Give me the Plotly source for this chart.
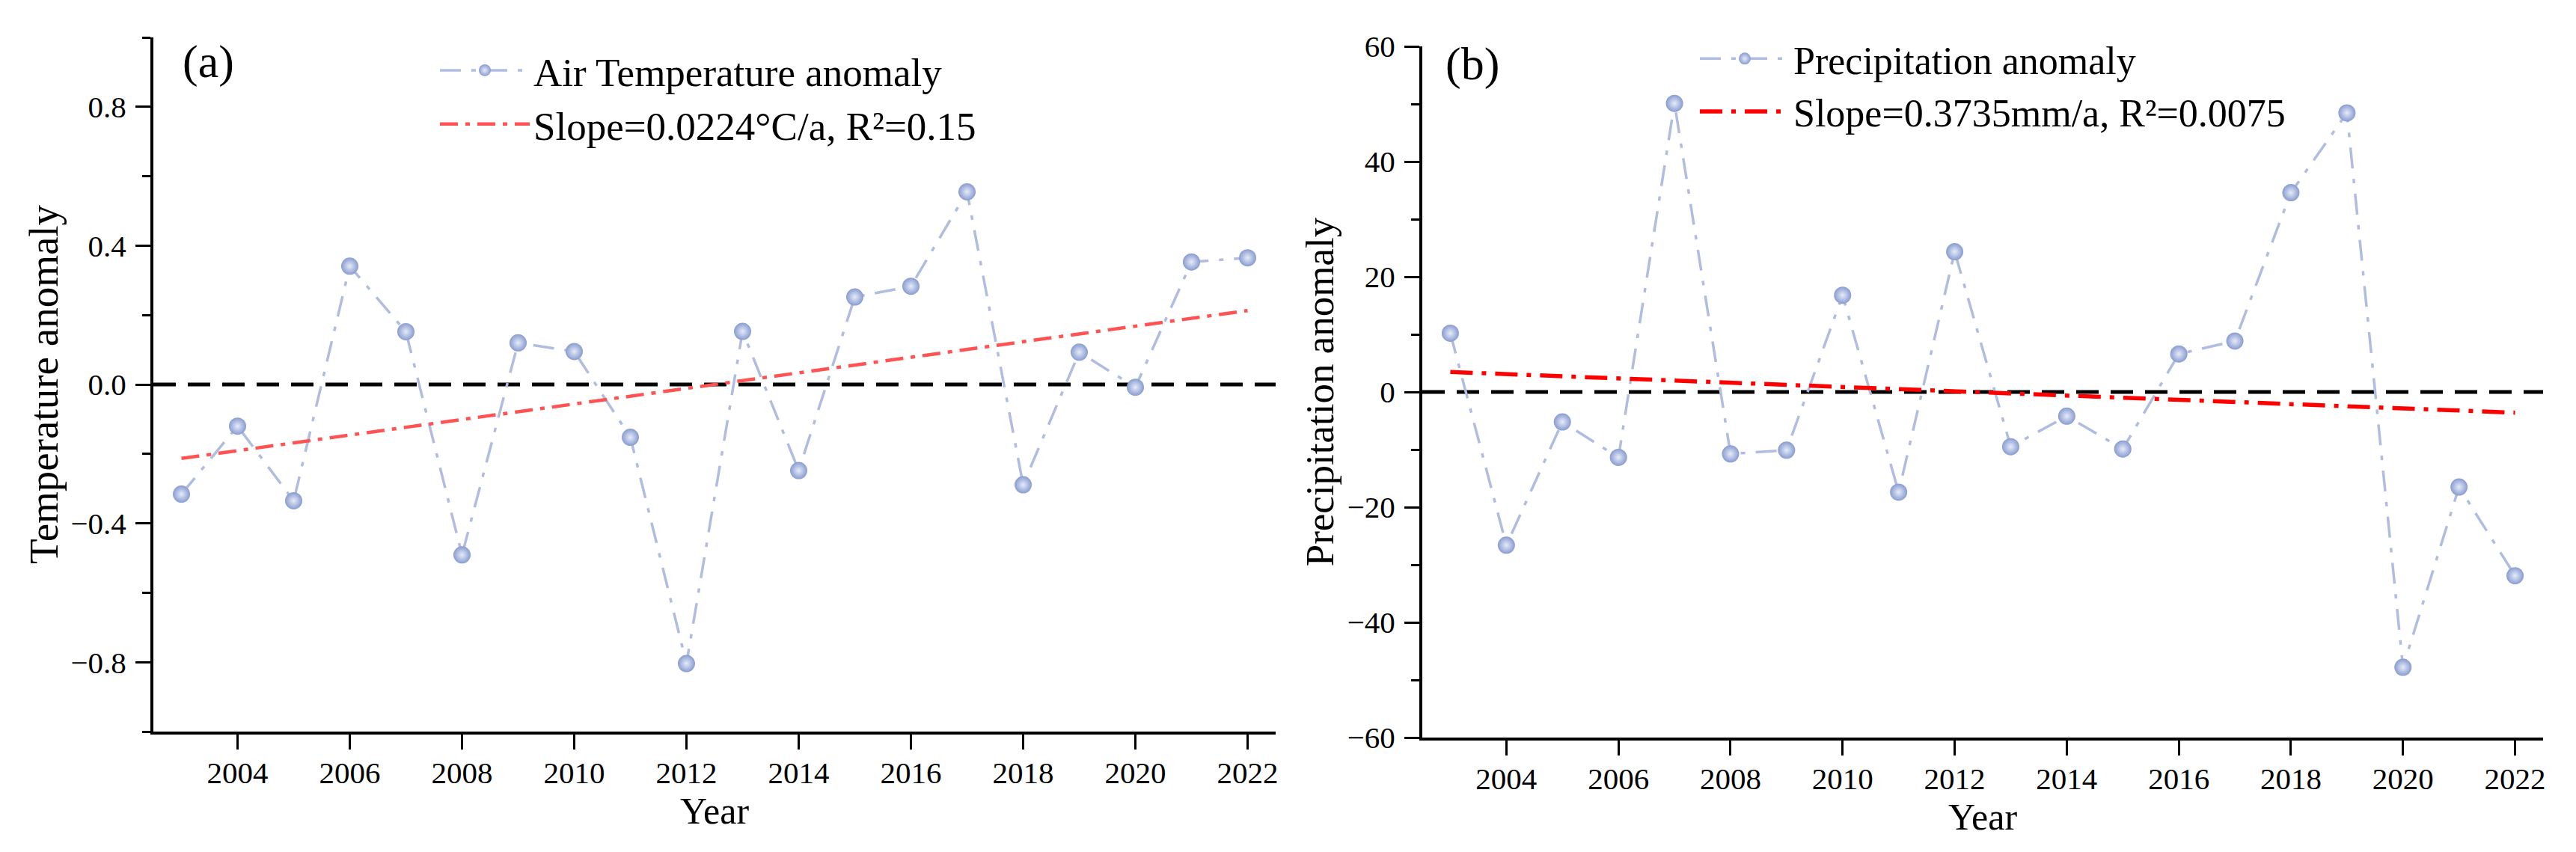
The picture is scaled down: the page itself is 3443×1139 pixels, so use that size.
import numpy as np
import plotly.graph_objects as go

# ---------------- data ----------------
years = list(range(2003, 2023))
temp_anomaly = [-0.316, -0.120, -0.335, 0.341, 0.152, -0.491, 0.120, 0.095, -0.152, -0.804,
                0.153, -0.248, 0.252, 0.283, 0.555, -0.289, 0.093, -0.008, 0.353, 0.365]
precip_anomaly = [10.2, -26.6, -5.2, -11.35, 50.1, -10.75, -10.1, 16.8, -17.4, 24.35,
                  -9.5, -4.2, -9.9, 6.6, 8.84, 34.6, 48.45, -47.8, -16.5, -31.9]

temp_name = "Air Temperature anomaly"
temp_trend_name = "Slope=0.0224°C/a, R²=0.15"
precip_name = "Precipitation anomaly"
precip_trend_name = "Slope=0.3735mm/a, R²=0.0075"

x_ticks = list(range(2004, 2023, 2))

# linear trends from the data
yr = np.array(years, dtype=float)
pa = np.polyfit(yr, np.array(temp_anomaly), 1)
pb = np.polyfit(yr, np.array(precip_anomaly), 1)
temp_trend = list(np.polyval(pa, yr))
precip_trend = list(np.polyval(pb, yr))

# ---------------- style ----------------
PAGE_W, PAGE_H = 3443, 1139
BODY = 8                      # default html body margin
W, H = PAGE_W - 2 * BODY, PAGE_H - 2 * BODY
FONT = "Liberation Serif"
BLUE_LINE = "#B0BDE0"
BLUE_MARK = "#889CD1"
RED_A = "#FF5252"
RED_B = "#FF0000"

def fx(v):   # page x pixel -> paper fraction
    return (v - BODY) / W

def fy(v):   # page y pixel (from top) -> paper fraction
    return 1 - (v - BODY) / H

fig = go.Figure()

marker = dict(size=23, color=BLUE_MARK,
              gradient=dict(type="radial", color="#E6EBF8"),
              line=dict(width=0))

fig.add_trace(go.Scatter(
    x=years, y=temp_anomaly, mode="lines+markers", name=temp_name,
    line=dict(color=BLUE_LINE, width=3.5, dash="28px,14px,6px,14px"),
    marker=marker, xaxis="x", yaxis="y", legend="legend"))
fig.add_trace(go.Scatter(
    x=years, y=temp_trend, mode="lines", name=temp_trend_name,
    line=dict(color=RED_A, width=4.5, dash="24px,10px,6px,10px"),
    xaxis="x", yaxis="y", legend="legend"))

fig.add_trace(go.Scatter(
    x=years, y=precip_anomaly, mode="lines+markers", name=precip_name,
    line=dict(color=BLUE_LINE, width=3.5, dash="28px,14px,6px,14px"),
    marker=marker, xaxis="x2", yaxis="y2", legend="legend2"))
fig.add_trace(go.Scatter(
    x=years, y=precip_trend, mode="lines", name=precip_trend_name,
    line=dict(color=RED_B, width=5.5, dash="30px,12px,6px,12px"),
    xaxis="x2", yaxis="y2", legend="legend2"))

axis_common = dict(
    showline=True, linecolor="black", linewidth=4,
    ticks="outside", ticklen=20, tickwidth=3, tickcolor="black",
    showgrid=False, zeroline=False, mirror=False, automargin=False,
    tickfont=dict(family=FONT, size=41, color="black"),
)

xaxis_common = dict(axis_common, range=[2002.5, 2022.5], tickmode="array",
                    tickvals=x_ticks, ticklabelstandoff=-4,
                    title=dict(text="Year", font=dict(family=FONT, size=50, color="black"),
                               standoff=2))

fig.update_layout(
    template="none",
    width=W, height=H,
    margin=dict(l=0, r=0, t=0, b=0, autoexpand=False),
    paper_bgcolor="white", plot_bgcolor="white",
    showlegend=True,
    font=dict(family=FONT, color="black"),
    xaxis=dict(xaxis_common, domain=[fx(205), fx(1705)], anchor="y"),
    yaxis=dict(axis_common, domain=[fy(978), fy(50)], anchor="x",
               range=[-1, 1], dtick=0.4, tick0=0, tickformat=".1f",
               ticklabelstandoff=4,
               minor=dict(dtick=0.2, tick0=0, ticks="outside", ticklen=11,
                          tickwidth=3, tickcolor="black", showgrid=False),
               title=dict(text="Temperature anomaly",
                          font=dict(family=FONT, size=55, color="black"), standoff=0)),
    xaxis2=dict(xaxis_common, domain=[fx(1901), fx(3399)], anchor="y2"),
    yaxis2=dict(axis_common, domain=[fy(986), fy(62)], anchor="x2",
                range=[-60, 60], dtick=20, tick0=0,
                ticklabelstandoff=4,
                minor=dict(dtick=10, tick0=0, ticks="outside", ticklen=11,
                           tickwidth=3, tickcolor="black", showgrid=False),
                title=dict(text="Precipitation anomaly",
                           font=dict(family=FONT, size=53, color="black"), standoff=2)),
    legend=dict(x=fx(583), y=fy(53), xanchor="left", yanchor="top",
                font=dict(family=FONT, size=53, color="black"),
                bgcolor="rgba(0,0,0,0)", itemwidth=120, tracegroupgap=0),
    legend2=dict(x=fx(2267), y=fy(38), xanchor="left", yanchor="top",
                 font=dict(family=FONT, size=52, color="black"),
                 bgcolor="rgba(0,0,0,0)", itemwidth=120, tracegroupgap=0),
)

# zero reference lines
for xr, yr_ in (("x domain", "y"), ("x2 domain", "y2")):
    fig.add_shape(type="line", xref=xr, yref=yr_, x0=0, x1=1, y0=0, y1=0,
                  line=dict(color="black", width=5, dash="30px,16px"), layer="below")

# panel labels
fig.add_annotation(text="(a)", xref="paper", yref="paper", x=fx(242), y=fy(83),
                   xanchor="left", yanchor="middle", showarrow=False,
                   font=dict(family=FONT, size=62, color="black"))
fig.add_annotation(text="(b)", xref="paper", yref="paper", x=fx(1930), y=fy(85),
                   xanchor="left", yanchor="middle", showarrow=False,
                   font=dict(family=FONT, size=62, color="black"))

fig.write_html("out.html")
